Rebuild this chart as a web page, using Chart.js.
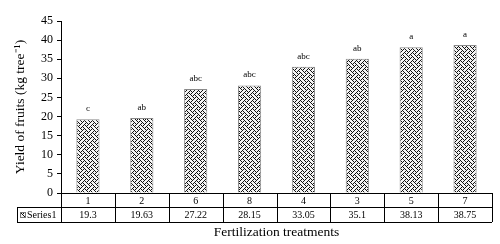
<!DOCTYPE html>
<html>
<head>
<meta charset="utf-8">
<script src="https://cdn.jsdelivr.net/npm/chart.js@4"></script>
<style>
  html, body { margin: 0; padding: 0; background: #fff; }
  #wrap { width: 500px; height: 244px; }
</style>
</head>
<body>
<div id="wrap"><canvas id="yieldChart"></canvas></div>
<script>
// data
const treatments = ['1', '2', '6', '8', '4', '3', '5', '7'];
const yieldValues = [19.3, 19.63, 27.22, 28.15, 33.05, 35.1, 38.13, 38.75];
const groupLetters = ['c', 'ab', 'abc', 'abc', 'abc', 'ab', 'a', 'a'];
const seriesName = 'Series1';
const yTicks = [0, 5, 10, 15, 20, 25, 30, 35, 40, 45];

const serif = "'Liberation Serif', 'Times New Roman', serif";

// weave-like fill (excel pattern fill), 8x8 bitmap
const weaveRows = [0x88, 0x54, 0x22, 0x45, 0x88, 0x15, 0x22, 0x51];
function makePattern() {
    const c = document.createElement('canvas');
    c.width = 8; c.height = 8;
    const g = c.getContext('2d');
    g.fillStyle = '#f4f4f4';
    g.fillRect(0, 0, 8, 8);
    weaveRows.forEach((bits, y) => {
        for (let x = 0; x < 8; x++) {
            if (bits & (0x80 >> x)) {
                g.fillStyle = '#111';
                g.fillRect(x, y, 1, 1);
            }
        }
    });
    return g.createPattern(c, 'repeat');
}
const weave = makePattern();

const ROW1 = 14, ROW2 = 15;

// letters above bars + data table under the axis
const tablePlugin = {
    id: 'tablePlugin',
    afterDatasetsDraw(chart) {
        const ctx = chart.ctx;
        const meta = chart.getDatasetMeta(0);
        ctx.save();
        ctx.fillStyle = '#000';
        ctx.font = '9px ' + serif;
        ctx.textAlign = 'center';
        ctx.textBaseline = 'bottom';
        meta.data.forEach((bar, i) => {
            ctx.fillText(groupLetters[i], bar.x, bar.y - 6);
        });
        ctx.restore();
    },
    afterDraw(chart) {
        const ctx = chart.ctx;
        const area = chart.chartArea;
        const xs = chart.scales.x;
        const n = treatments.length;
        const colW = (area.right - area.left) / n;
        const top = area.bottom;
        const mid = top + ROW1;
        const bot = mid + ROW2;
        const legLeft = 17;

        ctx.save();
        ctx.strokeStyle = '#000';
        ctx.lineWidth = 1;
        ctx.beginPath();
        ctx.moveTo(area.left, top + 0.5); ctx.lineTo(area.right, top + 0.5);
        ctx.moveTo(legLeft, mid + 0.5); ctx.lineTo(area.right, mid + 0.5);
        ctx.moveTo(legLeft, bot + 0.5); ctx.lineTo(area.right, bot + 0.5);
        ctx.moveTo(legLeft + 0.5, mid); ctx.lineTo(legLeft + 0.5, bot);
        for (let i = 0; i <= n; i++) {
            const x = Math.round(xs.getPixelForValue(i) - colW / 2) + 0.5;
            ctx.moveTo(x, top); ctx.lineTo(x, bot);
        }
        ctx.stroke();

        ctx.fillStyle = '#000';
        ctx.font = '10px ' + serif;
        ctx.textAlign = 'center';
        ctx.textBaseline = 'middle';
        treatments.forEach((t, i) => {
            const x = xs.getPixelForValue(i);
            ctx.fillText(t, x, top + ROW1 / 2 + 1);
            ctx.fillText(String(yieldValues[i]), x, mid + ROW2 / 2 + 1);
        });

        // legend key
        ctx.fillStyle = weave;
        ctx.fillRect(20, mid + 5, 6, 6);
        ctx.strokeStyle = '#777';
        ctx.strokeRect(20.5, mid + 5.5, 5, 5);
        ctx.fillStyle = '#000';
        ctx.textAlign = 'left';
        ctx.fillText(seriesName, 27, mid + ROW2 / 2 + 1);
        ctx.restore();
    }
};

new Chart(document.getElementById('yieldChart'), {
    type: 'bar',
    data: {
        labels: treatments,
        datasets: [{
            label: seriesName,
            data: yieldValues,
            backgroundColor: weave,
            borderColor: '#8a8a8a',
            borderWidth: 1,
            categoryPercentage: 1,
            barPercentage: 0.43
        }]
    },
    options: {
        responsive: true,
        maintainAspectRatio: false,
        animation: false,
        layout: { padding: { left: 12, right: 8, top: 21, bottom: 3 } },
        plugins: {
            legend: { display: false },
            tooltip: { enabled: false }
        },
        scales: {
            x: {
                grid: { display: false },
                border: { display: false },
                ticks: { display: false },
                title: {
                    display: true,
                    text: 'Fertilization treatments',
                    color: '#000',
                    font: { family: serif, size: 13.5 },
                    padding: 0
                },
                afterFit: function (scale) { scale.height = 48; }
            },
            y: {
                min: 0,
                max: 45,
                afterBuildTicks: function (scale) {
                    scale.ticks = yTicks.map(v => ({ value: v }));
                },
                grid: {
                    drawOnChartArea: false,
                    drawTicks: true,
                    tickLength: 4,
                    color: '#000'
                },
                border: { display: true, color: '#000', width: 1 },
                ticks: {
                    color: '#000',
                    padding: 4,
                    font: { family: serif, size: 12 }
                },
                title: {
                    display: true,
                    text: 'Yield of fruits (kg tree\u207B\u00B9)',
                    color: '#000',
                    font: { family: serif, size: 13.5 },
                    padding: 0
                },
                afterFit: function (scale) { scale.width = 49; }
            }
        }
    },
    plugins: [tablePlugin]
});
</script>
</body>
</html>
